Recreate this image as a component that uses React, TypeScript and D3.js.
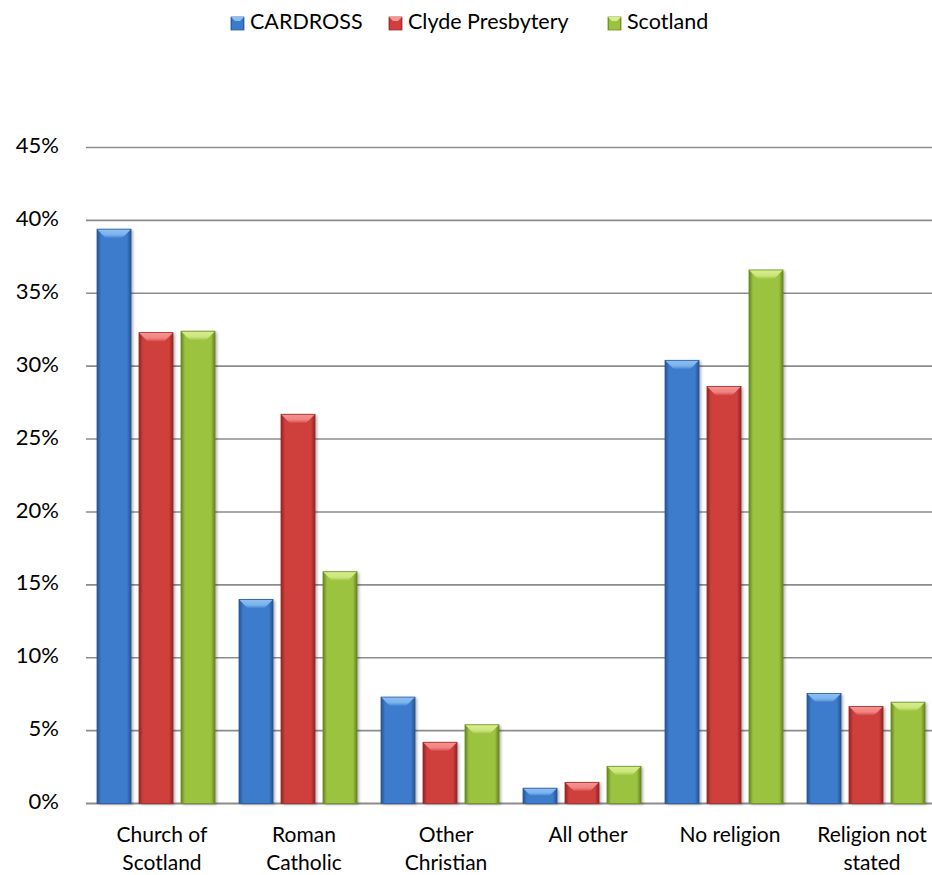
import React from "react";
import * as d3 from "d3";

const categories = [
  ["Church of", "Scotland"],
  ["Roman", "Catholic"],
  ["Other", "Christian"],
  ["All other"],
  ["No religion"],
  ["Religion not", "stated"],
];
const seriesNames = ["CARDROSS", "Clyde Presbytery", "Scotland"];
const cardross = [39.4, 14.0, 7.3, 1.05, 30.4, 7.55];
const clyde = [32.3, 26.7, 4.2, 1.45, 28.6, 6.65];
const scotland = [32.4, 15.9, 5.4, 2.55, 36.6, 6.95];
const yTicks = [0, 5, 10, 15, 20, 25, 30, 35, 40, 45];

const seriesValues = [cardross, clyde, scotland];
const palette = [
  { base: "#3c7bcc", light: "#8cc0f5", dark: "#24548f", edge: "#2b5d9c" },
  { base: "#cf3f3d", light: "#f89491", dark: "#8e2523", edge: "#a02d2b" },
  { base: "#9cc340", light: "#d8ee8c", dark: "#63821f", edge: "#6f8f2a" },
];

const W = 932;
const H = 875;
const FONT = "Lato, 'Open Sans', sans-serif";

export default function App() {
  const catIdx = categories.map((_, i) => String(i));
  const x0 = d3.scaleBand<string>().domain(catIdx).range([85, 937]).paddingInner(0).paddingOuter(0);
  const groupW = 118;
  const x1 = d3.scaleBand<string>().domain(seriesNames).range([0, groupW]).paddingInner(0.19).paddingOuter(0);
  const y = d3.scaleLinear().domain([0, 45]).range([803.5, 147.5]);
  const bw = x1.bandwidth();
  const bev = 9;

  return (
    <svg width={W} height={H} style={{ position: "absolute", left: 0, top: 0, background: "#fff" }} fontFamily={FONT}>
      <defs>
        {palette.map((p, i) => (
          <linearGradient key={"g" + i} id={"grad" + i} x1="0" x2="1" y1="0" y2="0">
            <stop offset="0" stopColor={p.dark} />
            <stop offset="0.12" stopColor={p.base} />
            <stop offset="0.5" stopColor={p.base} />
            <stop offset="0.88" stopColor={p.base} />
            <stop offset="1" stopColor={p.dark} />
          </linearGradient>
        ))}
        {palette.map((p, i) => (
          <linearGradient key={"t" + i} id={"top" + i} x1="0" x2="0" y1="0" y2="1">
            <stop offset="0" stopColor={p.light} />
            <stop offset="0.6" stopColor={p.light} stopOpacity={0.8} />
            <stop offset="1" stopColor={p.base} />
          </linearGradient>
        ))}
        <filter id="shadow" x="-20%" y="-5%" width="150%" height="115%">
          <feDropShadow dx="2" dy="1" stdDeviation="1.5" floodColor="#000" floodOpacity="0.3" />
        </filter>
      </defs>

      {(() => {
        const items = [
          { x: 231, label: seriesNames[0] },
          { x: 389, label: seriesNames[1] },
          { x: 608, label: seriesNames[2] },
        ];
        return items.map((it, i) => (
          <g key={"l" + i}>
            <rect x={it.x} y={17} width={13} height={13} fill={`url(#grad${i})`} stroke={palette[i].edge} strokeWidth={0.8} />
            <polygon
              points={`${it.x},17 ${it.x + 13},17 ${it.x + 9},21 ${it.x + 4},21`}
              fill={palette[i].light}
            />
            <text x={it.x + 19} y={24} dominantBaseline="middle" fontSize={21.5} fill="#000">
              {it.label}
            </text>
          </g>
        ));
      })()}

      {yTicks.map((t) => (
        <g key={"y" + t}>
          <line x1={86} x2={932} y1={y(t)} y2={y(t)} stroke="#8c8c8c" strokeWidth={t === 0 ? 2 : 1.6} />
          <text x={59} y={y(t)} textAnchor="end" dominantBaseline="middle" fontSize={22} fill="#000">
            {t + "%"}
          </text>
        </g>
      ))}

      {catIdx.map((c, ci) => (
        <g key={"c" + ci} transform={`translate(${x0(c)! + (x0.bandwidth() - groupW) / 2},0)`}>
          {seriesNames.map((s, si) => {
            const v = seriesValues[si][ci];
            const bx = x1(s)!;
            const by = y(v);
            const bh = y(0) - by;
            const b = Math.min(bev, bh / 2);
            const p = palette[si];
            return (
              <g key={s}>
                <rect x={bx} y={by} width={bw} height={bh} fill={`url(#grad${si})`} filter="url(#shadow)" />
                <polygon
                  points={`${bx},${by} ${bx + bw},${by} ${bx + bw - b},${by + b} ${bx + b},${by + b}`}
                  fill={`url(#top${si})`}
                />
                <rect x={bx} y={by} width={bw} height={bh} fill="none" stroke={p.edge} strokeWidth={0.8} />
              </g>
            );
          })}
        </g>
      ))}

      {categories.map((lines, ci) => (
        <text
          key={"cl" + ci}
          x={x0(String(ci))! + x0.bandwidth() / 2 + 6}
          y={835}
          textAnchor="middle"
          fontSize={21}
          fill="#000"
        >
          {lines.map((ln, li) => (
            <tspan key={li} x={x0(String(ci))! + x0.bandwidth() / 2 + 6} dy={li === 0 ? "0.35em" : 28}>
              {ln}
            </tspan>
          ))}
        </text>
      ))}
    </svg>
  );
}
